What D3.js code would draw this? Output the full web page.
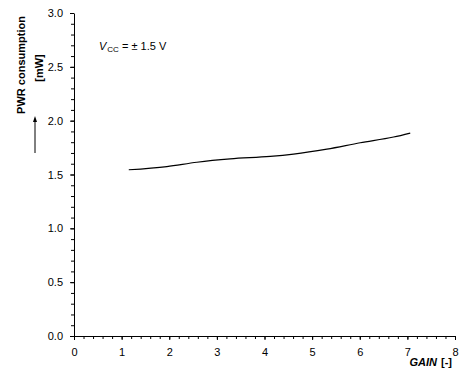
<!DOCTYPE html>
<html>
<head>
<meta charset="utf-8">
<script src="https://cdn.jsdelivr.net/npm/d3@7"></script>
<style>
  body { margin: 0; background: #fff; }
  svg { display: block; font-family: Arial, "Liberation Sans", sans-serif; }
</style>
</head>
<body>
<svg id="chart" width="462" height="382"></svg>
<script>
// Power consumption vs. gain at Vcc = ±1.5 V
const gain = [1.15, 1.95, 2.58, 3.28, 4.12, 4.61, 5.31, 6.01, 6.71, 7.06];
const power = [1.544, 1.574, 1.614, 1.645, 1.668, 1.69, 1.736, 1.795, 1.848, 1.885];
const xTicks = [0, 1, 2, 3, 4, 5, 6, 7, 8];
const yTicks = [0.0, 0.5, 1.0, 1.5, 2.0, 2.5, 3.0];

const svg = d3.select("#chart");
const plot = { left: 74, right: 455, top: 13, bottom: 336 };

const x = d3.scaleLinear().domain([0, 8]).range([plot.left, plot.right]);
const y = d3.scaleLinear().domain([0, 3]).range([plot.bottom, plot.top]);

// minor ticks
const xMinor = d3.range(0, 8.0001, 0.2).map(v => +v.toFixed(1));
const yMinor = d3.range(0, 3.0001, 0.1).map(v => +v.toFixed(1));

svg.append("g")
  .attr("transform", `translate(0,${plot.bottom})`)
  .call(d3.axisBottom(x).tickValues(xMinor).tickSize(3).tickFormat(""))
  .call(g => g.select(".domain").remove())
  .call(g => g.selectAll("line").attr("stroke", "#000"));

svg.append("g")
  .attr("transform", `translate(${plot.left},0)`)
  .call(d3.axisLeft(y).tickValues(yMinor).tickSize(3).tickFormat(""))
  .call(g => g.select(".domain").remove())
  .call(g => g.selectAll("line").attr("stroke", "#000"));

const xAxis = svg.append("g")
  .attr("transform", `translate(0,${plot.bottom})`)
  .call(d3.axisBottom(x).tickValues(xTicks).tickSize(4).tickSizeOuter(0).tickPadding(8).tickFormat(d3.format("d")));
const yAxis = svg.append("g")
  .attr("transform", `translate(${plot.left},0)`)
  .call(d3.axisLeft(y).tickValues(yTicks).tickSize(4).tickSizeOuter(0).tickPadding(7).tickFormat(d3.format(".1f")));

[xAxis, yAxis].forEach(g => {
  g.select(".domain").attr("stroke", "#000").attr("stroke-width", 1);
  g.selectAll("line").attr("stroke", "#000");
  g.selectAll("text").attr("fill", "#000").style("font-size", "11px")
    .style("font-family", "Arial, 'Liberation Sans', sans-serif");
});

// data curve
svg.append("path")
  .datum(gain.map((g, i) => [g, power[i]]))
  .attr("fill", "none")
  .attr("stroke", "#000")
  .attr("stroke-width", 1.2)
  .attr("d", d3.line().x(d => x(d[0])).y(d => y(d[1])).curve(d3.curveMonotoneX));

// y axis title
svg.append("text")
  .attr("transform", "translate(25,65) rotate(-90)")
  .attr("text-anchor", "middle")
  .style("font-size", "11px").style("font-weight", "bold")
  .text("PWR consumption");
svg.append("text")
  .attr("transform", "translate(43,68) rotate(-90)")
  .attr("text-anchor", "middle")
  .style("font-size", "11px").style("font-weight", "bold")
  .text("[mW]");

// upward arrow
svg.append("line")
  .attr("x1", 35).attr("x2", 35).attr("y1", 153).attr("y2", 120)
  .attr("stroke", "#000").attr("stroke-width", 1);
svg.append("path")
  .attr("d", "M35,116 L33,122 L37,122 Z")
  .attr("fill", "#000");

// supply voltage annotation
const ann = svg.append("text").attr("x", 99).attr("y", 50).style("font-size", "11px");
ann.append("tspan").style("font-style", "italic").text("V");
ann.append("tspan").attr("dy", 2).attr("dx", 1).style("font-size", "8px").text("CC");
ann.append("tspan").attr("dy", -2).text(" = ± 1.5 V");

// x axis title
const xt = svg.append("text").attr("x", 452).attr("y", 366)
  .attr("text-anchor", "end").style("font-size", "11px").style("font-weight", "bold");
xt.append("tspan").style("font-style", "italic").text("GAIN");
xt.append("tspan").attr("dx", 4).text("[-]");
</script>
</body>
</html>
